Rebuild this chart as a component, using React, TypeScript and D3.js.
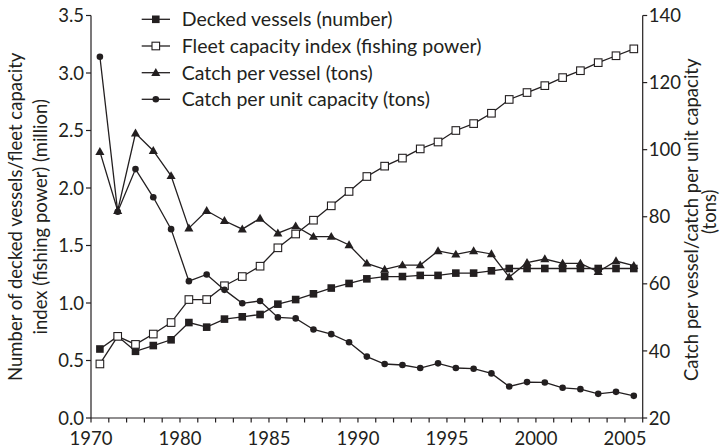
import React from "react";
import * as d3 from "d3";

const years = d3.range(1975, 2006);
const decked = [0.60,0.71,0.58,0.63,0.68,0.83,0.79,0.86,0.88,0.90,0.99,1.03,1.08,1.13,1.17,1.21,1.23,1.23,1.24,1.24,1.26,1.26,1.28,1.30,1.30,1.30,1.30,1.30,1.30,1.30,1.30];
const capacity = [0.47,0.71,0.64,0.73,0.83,1.03,1.03,1.15,1.23,1.32,1.48,1.60,1.72,1.845,1.97,2.10,2.19,2.26,2.34,2.40,2.50,2.56,2.65,2.77,2.83,2.89,2.96,3.02,3.09,3.15,3.21];
const catchPerVessel = [99.4,81.8,104.9,99.7,92.2,76.6,81.8,78.8,76.3,79.5,75.1,77.2,74.1,74.1,71.6,66.1,64.3,65.6,65.6,69.8,68.8,69.8,68.9,62.0,66.3,67.4,66.1,66.1,63.6,66.8,65.4];
const catchPerCap = [127.7,81.5,94.2,85.8,76.3,60.8,62.8,58.2,54.2,54.9,50.0,49.7,46.4,45.0,42.6,38.3,36.1,35.8,34.9,36.3,34.9,34.7,33.3,29.4,30.7,30.6,29.0,28.6,27.2,27.8,26.6];

const xTickYears = d3.range(1975, 2007);
const xLabelYears = [1975, 1980, 1985, 1990, 1995, 2000, 2005];
const xLabelTexts = ["1970", "1980", "1985", "1990", "1995", "2000", "2005"];
const leftTicks = [0, 0.5, 1.0, 1.5, 2.0, 2.5, 3.0, 3.5];
const rightTicks = [20, 40, 60, 80, 100, 120, 140];

const legendLabels = [
  "Decked vessels (number)",
  "Fleet capacity index (fishing power)",
  "Catch per vessel (tons)",
  "Catch per unit capacity (tons)",
];
const leftTitle = ["Number of decked vessels/fleet capacity", "index (fishing power) (million)"];
const rightTitle = ["Catch per vessel/catch per unit capacity", "(tons)"];

const INK = "#231f20";
const FONT = "Lato, 'Open Sans', sans-serif";

type Marker = "fsquare" | "osquare" | "triangle" | "circle";

function MarkerShape({ type, cx, cy }: { type: Marker; cx: number; cy: number }) {
  if (type === "fsquare") return <rect x={cx - 3.8} y={cy - 3.8} width={7.6} height={7.6} fill={INK} />;
  if (type === "osquare")
    return <rect x={cx - 3.8} y={cy - 3.8} width={7.6} height={7.6} fill="#fff" stroke={INK} strokeWidth={1.1} />;
  if (type === "circle") return <circle cx={cx} cy={cy} r={3.3} fill={INK} />;
  const p = d3.symbol().type(d3.symbolTriangle).size(36)();
  return <path d={p || ""} transform={`translate(${cx},${cy + 0.6})`} fill={INK} />;
}

export default function App() {
  const x0 = 91, x1 = 642.7, yB = 418, yT = 15.5;
  const x = d3.scaleBand<number>().domain(years).range([x0, x1]).paddingInner(0).paddingOuter(0);
  const bw = x.bandwidth();
  const xTick = (yr: number) => x0 + (yr - 1975) * bw;
  const xc = (yr: number) => (x(yr) as number) + bw / 2;
  const yL = d3.scaleLinear().domain([0, 3.5]).range([yB, yT]);
  const yR = d3.scaleLinear().domain([20, 140]).range([yB, yT]);

  const series: { vals: number[]; scale: d3.ScaleLinear<number, number>; marker: Marker }[] = [
    { vals: decked, scale: yL, marker: "fsquare" },
    { vals: capacity, scale: yL, marker: "osquare" },
    { vals: catchPerVessel, scale: yR, marker: "triangle" },
    { vals: catchPerCap, scale: yR, marker: "circle" },
  ];

  const legendRows = [19.3, 46, 72.7, 99.3];

  return (
    <svg width={724} height={448} style={{ position: "absolute", left: 0, top: 0, background: "#fff" }} fontFamily={FONT}>
      <rect x={0} y={0} width={724} height={448} fill="#fff" />
      {/* axes */}
      <g stroke={INK} strokeWidth={1.2} fill="none">
        <line x1={x0} x2={x0} y1={yT} y2={yB} />
        <line x1={x1} x2={x1} y1={yT} y2={yB} />
        <line x1={x0} x2={x1} y1={yB} y2={yB} />
        {xTickYears.map((yr) => (
          <line key={yr} x1={xTick(yr)} x2={xTick(yr)} y1={yB} y2={yB + 4.5} />
        ))}
        {leftTicks.map((t) => (
          <line key={t} x1={x0 - 5} x2={x0} y1={yL(t)} y2={yL(t)} />
        ))}
        {rightTicks.map((t) => (
          <line key={t} x1={x1} x2={x1 + 4.5} y1={yR(t)} y2={yR(t)} />
        ))}
      </g>
      <g fill={INK} fontSize={18.5}>
        {xLabelYears.map((yr, i) => (
          <text key={yr} x={xTick(yr)} y={444.5} textAnchor="middle">{xLabelTexts[i]}</text>
        ))}
        {leftTicks.map((t) => (
          <text key={t} x={x0 - 7} y={yL(t)} dy="0.36em" textAnchor="end">{d3.format(".1f")(t)}</text>
        ))}
        {rightTicks.map((t) => (
          <text key={t} x={x1 + 6} y={yR(t)} dy="0.36em" textAnchor="start">{t}</text>
        ))}
        <text transform={`translate(21.5,${(yT + yB) / 2}) rotate(-90)`} textAnchor="middle">{leftTitle[0]}</text>
        <text transform={`translate(46.5,${(yT + yB) / 2}) rotate(-90)`} textAnchor="middle">{leftTitle[1]}</text>
        <text transform={`translate(698,${(yT + yB) / 2 + 3}) rotate(-90)`} textAnchor="middle">{rightTitle[0]}</text>
        <text transform={`translate(716,${(yT + yB) / 2 - 5}) rotate(-90)`} textAnchor="middle">{rightTitle[1]}</text>
      </g>
      {/* series */}
      {series.map((s, si) => {
        const line = d3.line<number>().x((_, i) => xc(years[i])).y((v) => s.scale(v));
        return (
          <g key={si}>
            <path d={line(s.vals) || ""} fill="none" stroke={INK} strokeWidth={1.3} />
            {s.vals.map((v, i) => (
              <MarkerShape key={i} type={s.marker} cx={xc(years[i])} cy={s.scale(v)} />
            ))}
          </g>
        );
      })}
      {/* legend */}
      {series.map((s, i) => (
        <g key={i}>
          <line x1={141.7} x2={170} y1={legendRows[i]} y2={legendRows[i]} stroke={INK} strokeWidth={1.3} />
          <MarkerShape type={s.marker} cx={155.8} cy={legendRows[i]} />
          <text x={181.7} y={legendRows[i]} dy="0.36em" fontSize={19.5} fill={INK}>{legendLabels[i]}</text>
        </g>
      ))}
    </svg>
  );
}
